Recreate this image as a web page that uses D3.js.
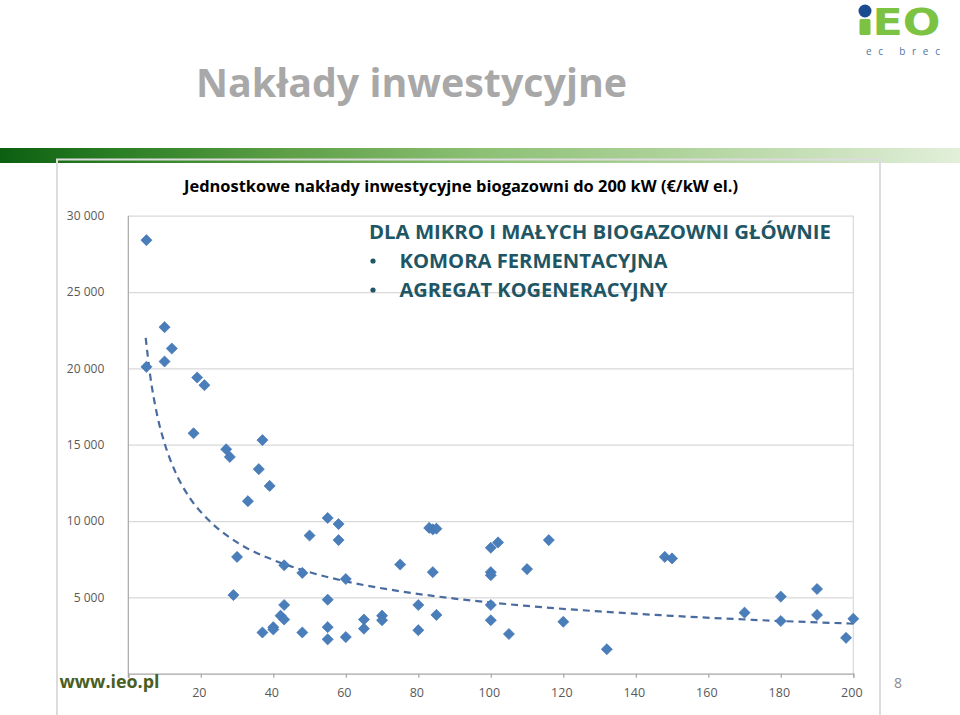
<!DOCTYPE html>
<html><head><meta charset="utf-8">
<script src="https://cdn.jsdelivr.net/npm/d3@7"></script>
<style>html,body{margin:0;padding:0;background:#fff;} svg{display:block;}</style>
</head><body><svg id="c" width="960" height="715"></svg>
<script>
// ---- data ----
const capacityKW = [5,5,10,12,10,19,21,18,37,27,28,36,39,33,30,43,48,29,43,42,43,37,40,40,48,
  50,55,58,58,60,55,55,55,60,65,65,70,70,75,80,80,83,84,85,84,85,
  100,102,100,100,100,100,105,110,116,120,132,148,150,170,180,180,190,190,198,200];
const costEURperKW = [28400,20100,22700,21300,20450,19400,18900,15750,15300,14700,14200,13400,12300,11300,7650,7100,6600,5150,4500,3800,3550,2700,3050,2900,2700,
  9050,10200,9800,8750,6200,4850,3050,2250,2400,3550,2950,3800,3500,7150,4500,2850,9550,9450,9500,6650,3850,
  8250,8600,6650,6450,4500,3500,2600,6850,8750,3400,1600,7650,7550,4000,5050,3450,5550,3850,2350,3600];
const trendX = [4.8,6,8,10,13,17,22,30,40,50,60,75,90,110,130,150,175,200];
const trendY = [22000,19600,16900,15100,13200,11500,10100,8600,7450,6650,6050,5400,4920,4440,4080,3790,3500,3280];
const xTickValues = [0,20,40,60,80,100,120,140,160,180,200];
const yTickValues = [0,5000,10000,15000,20000,25000,30000];
const mainTitle = "Nakłady inwestycyjne";
const chartTitle = "Jednostkowe nakłady inwestycyjne biogazowni do 200 kW (€/kW el.)";
const noteLines = ["DLA MIKRO I MAŁYCH BIOGAZOWNI GŁÓWNIE", "KOMORA FERMENTACYJNA", "AGREGAT KOGENERACYJNY"];

const svg = d3.select("#c");
const W = 960, H = 715;
const font = "'Open Sans', 'Noto Sans', sans-serif";

// gradient
const defs = svg.append("defs");
const g1 = defs.append("linearGradient").attr("id","gbar").attr("x1","0").attr("x2","1").attr("y1","0").attr("y2","0");
[[0,"#0c5f10"],[0.12,"#2a7e24"],[0.3,"#5e9f47"],[0.5,"#8cc074"],[0.72,"#b2d49e"],[0.9,"#d0e5c4"],[1,"#e2efda"]]
  .forEach(([o,c]) => g1.append("stop").attr("offset",o).attr("stop-color",c));

svg.append("rect").attr("width",W).attr("height",H).attr("fill","#fff");

// frame fill
svg.append("rect").attr("x",57).attr("y",159).attr("width",823).attr("height",600).attr("fill","#fff");
// green bar
svg.append("rect").attr("x",0).attr("y",148).attr("width",W).attr("height",15).attr("fill","url(#gbar)");
// frame stroke
svg.append("rect").attr("x",57).attr("y",159.5).attr("width",823).attr("height",600)
  .attr("fill","none").attr("stroke","#dcdcdc").attr("stroke-width",2);

// main title
svg.append("text").attr("x",196).attr("y",97).text(mainTitle)
  .attr("font-family",font).attr("font-weight",700).attr("font-size",40)
  .attr("fill","#a8a8a8").attr("textLength",431).attr("lengthAdjust","spacingAndGlyphs");

// logo
const logo = svg.append("g");
logo.append("circle").attr("cx",865).attr("cy",11).attr("r",6.5).attr("fill","#1b4c92");
logo.append("rect").attr("x",859.5).attr("y",19).attr("width",11).attr("height",16).attr("rx",1.5).attr("fill","#7cc243");
logo.append("text").attr("x",872.5).attr("y",35).text("EO")
  .attr("font-family","'DejaVu Sans', sans-serif").attr("font-weight",700).attr("font-size",38)
  .attr("fill","#7cc243").attr("textLength",68).attr("lengthAdjust","spacingAndGlyphs");
logo.append("text").attr("x",866).attr("y",55).text("ec brec")
  .attr("font-family",font).attr("font-size",10).attr("fill","#4f77a4")
  .attr("textLength",74).attr("lengthAdjust","spacing");

// chart title
svg.append("text").attr("x",184).attr("y",192).text(chartTitle)
  .attr("font-family",font).attr("font-weight",700).attr("font-size",16.5)
  .attr("fill","#000").attr("textLength",554).attr("lengthAdjust","spacingAndGlyphs");

// scales
const x = d3.scaleLinear().domain([0,200]).range([128.3,853.3]);
const y = d3.scaleLinear().domain([0,30000]).range([673.7,215.7]);
const loc = d3.formatLocale({decimal:",", thousands:" ", grouping:[3], currency:["",""]});
const fmt = loc.format(",d");

// gridlines
const grid = svg.append("g").attr("transform",`translate(${x(0)},0)`)
  .call(d3.axisLeft(y).tickValues(yTickValues.filter(v=>v>0)).tickSize(-(x(200)-x(0))).tickFormat(""));
grid.select(".domain").remove();
grid.selectAll("line").attr("stroke","#d9d9d9").attr("stroke-width",1.2);

// right plot border
svg.append("line").attr("x1",x(200)).attr("x2",x(200)).attr("y1",y(30000)).attr("y2",y(0))
  .attr("stroke","#d9d9d9").attr("stroke-width",1.2);

// y axis
const ya = svg.append("g").attr("transform",`translate(${x(0)},0)`)
  .call(d3.axisLeft(y).tickValues(yTickValues.filter(v=>v>0)).tickSize(0).tickPadding(24).tickFormat(fmt));
ya.select(".domain").remove();
ya.selectAll("text").attr("font-family",font).attr("font-size",12).attr("fill","#595959");
svg.append("line").attr("x1",x(0)).attr("x2",x(0)).attr("y1",y(30000)).attr("y2",y(0)+4)
  .attr("stroke","#a6a6a6").attr("stroke-width",1.2);

// x axis
const xa = svg.append("g").attr("transform",`translate(0,${y(0)})`)
  .call(d3.axisBottom(x).tickValues(xTickValues).tickSize(4).tickPadding(10)
    .tickFormat(d => d === 0 ? "" : d));
xa.select(".domain").attr("stroke","#a6a6a6").attr("stroke-width",1.2);
xa.selectAll("line").attr("stroke","#a6a6a6").attr("stroke-width",1.2);
xa.selectAll("text").attr("font-family",font).attr("font-size",12.5).attr("fill","#595959").attr("dx",-2);

// note text
const note = svg.append("g").attr("font-family",font).attr("font-weight",700).attr("fill","#1e5665");
note.append("text").attr("x",369).attr("y",239).text(noteLines[0]).attr("font-size",20)
  .attr("textLength",462).attr("lengthAdjust","spacingAndGlyphs");
[1,2].forEach((i,k) => {
  const by = 268 + k*29;
  note.append("circle").attr("cx",373).attr("cy",by-7).attr("r",2.6);
  note.append("text").attr("x",399.5).attr("y",by).text(noteLines[i]).attr("font-size",20)
    .attr("textLength",268).attr("lengthAdjust","spacingAndGlyphs");
});

// trend line
const pts = trendX.map((v,i)=>[v,trendY[i]]);
svg.append("path").datum(pts)
  .attr("d", d3.line().x(d=>x(d[0])).y(d=>y(d[1])).curve(d3.curveMonotoneX))
  .attr("fill","none").attr("stroke","#4a6b9f").attr("stroke-width",2.2).attr("stroke-dasharray","7,5");

// markers
const sym = d3.symbol().type(d3.symbolSquare).size(62);
svg.append("g").selectAll("path").data(capacityKW.map((v,i)=>[v,costEURperKW[i]])).join("path")
  .attr("d", sym)
  .attr("transform", d => `translate(${x(d[0])},${y(d[1])}) rotate(45)`)
  .attr("fill","#4a7ebb").attr("stroke","#3f72ae").attr("stroke-width",0.6);

// footer
svg.append("text").attr("x",59.5).attr("y",688).text("www.ieo.pl")
  .attr("font-family",font).attr("font-weight",700).attr("font-size",17)
  .attr("fill","#4a5e23").attr("textLength",100).attr("lengthAdjust","spacingAndGlyphs");
svg.append("text").attr("x",898).attr("y",688).attr("text-anchor","middle").text("8")
  .attr("font-family",font).attr("font-size",14).attr("fill","#8c8c8c");
</script>
</body></html>
